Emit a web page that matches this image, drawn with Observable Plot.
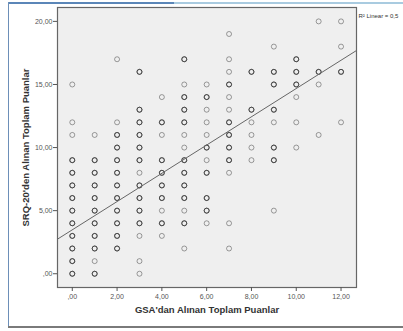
<!DOCTYPE html>
<html>
<head>
<meta charset="utf-8">
<script src="https://cdn.jsdelivr.net/npm/d3@7"></script>
<script src="https://cdn.jsdelivr.net/npm/@observablehq/plot@0.6"></script>
<style>
  html, body { margin: 0; padding: 0; background: #fff; }
  #wrap { position: relative; width: 403px; height: 331px; overflow: hidden; font-family: Arial, "Liberation Sans", sans-serif; }
  .deco { position: absolute; }
  #chart { position: absolute; left: 0; top: 0; }
</style>
</head>
<body>
<div id="wrap">
  <div id="chart"></div>
  <div class="deco" style="left:8px;top:2px;width:166px;height:2px;background:#5b86b8;"></div>
  <div class="deco" style="left:174px;top:2px;width:229px;height:2px;background:#a9cbe0;"></div>
  <div class="deco" style="left:8px;top:2px;width:1px;height:325px;background:#6d8fb8;"></div>
  <div class="deco" style="left:8px;top:326px;width:395px;height:2px;background:#7a7a7a;"></div>
</div>
<script>
// GSA score (x), SRQ-20 score (y), count (overlap: 1 = light, 3 = dark)
const scoreX = [
  11,12,
  7,
  9,12,
  2,5,7,10,
  3,7,8,9,10,11,12,
  0,5,6,7,9,10,11,
  4,5,6,7,10,
  3,5,6,7,8,9,
  0,2,3,4,5,6,7,8,9,10,12,
  0,1,2,3,4,5,6,7,8,11,
  2,3,5,6,7,8,9,10,
  0,1,2,3,4,5,6,7,8,9,
  0,1,2,3,4,5,6,7,
  0,1,2,3,4,5,
  0,1,2,3,4,5,6,
  0,1,2,3,4,5,6,9,
  0,1,2,3,4,5,6,7,
  0,1,2,3,4,
  0,1,2,5,7,
  0,1,3,
  0,1,3
];
const scoreY = [
  20,20,
  19,
  18,18,
  17,17,17,17,
  16,16,16,16,16,16,16,
  15,15,15,15,15,15,15,
  14,14,14,14,14,
  13,13,13,13,13,13,
  12,12,12,12,12,12,12,12,12,12,12,
  11,11,11,11,11,11,11,11,11,11,
  10,10,10,10,10,10,10,10,
  9,9,9,9,9,9,9,9,9,9,
  8,8,8,8,8,8,8,8,
  7,7,7,7,7,7,
  6,6,6,6,6,6,6,
  5,5,5,5,5,5,5,5,
  4,4,4,4,4,4,4,4,
  3,3,3,3,3,
  2,2,2,2,2,
  1,1,1,
  0,0,0
];
const counts = [
  1,1,
  1,
  1,1,
  1,3,1,3,
  3,1,3,3,3,3,3,
  1,1,1,3,3,3,1,
  1,3,3,1,1,
  3,3,1,1,3,3,
  1,1,3,3,3,1,3,1,1,1,1,
  1,1,3,3,1,1,1,3,1,1,
  3,3,1,3,3,1,3,1,
  3,3,3,3,3,3,1,3,1,3,
  3,3,3,1,3,3,3,1,
  3,3,3,3,3,3,
  3,3,3,3,3,3,3,
  3,3,3,3,1,1,3,1,
  3,3,3,3,3,3,1,1,
  3,3,3,1,1,
  3,3,3,1,1,
  3,1,1,
  3,3,1
];
const xTicks = [0, 2, 4, 6, 8, 10, 12];
const yTicks = [0, 5, 10, 15, 20];
const xDomain = [-0.66, 12.69];
const yDomain = [-1.09, 21.1];
const fitIntercept = 3.48;
const fitSlope = 1.12;
const xTitle = "GSA'dan Alınan Toplam Puanlar";
const yTitle = "SRQ-20'den Alınan Toplam Puanlar";
const fitNote = "R² Linear = 0,5";

// Expand overlaps into repeated points (overlapping strokes darken)
const points = [];
scoreX.forEach((x, i) => {
  for (let k = 0; k < counts[i]; k++) points.push({x, y: scoreY[i]});
});
const fitLine = xDomain.map(x => ({x, y: fitIntercept + fitSlope * x}));
const fmt = d => (d === 0 ? ",00" : d.toFixed(2).replace(".", ","));

const chart = Plot.plot({
  width: 403,
  height: 331,
  marginLeft: 57,
  marginRight: 47,
  marginTop: 7,
  marginBottom: 44,
  style: {fontFamily: "Arial, 'Liberation Sans', sans-serif", background: "transparent", overflow: "visible"},
  x: {domain: xDomain},
  y: {domain: yDomain},
  marks: [
    Plot.frame({fill: "#efefef", stroke: "none"}),
    Plot.dot(points, {x: "x", y: "y", r: 2.5, stroke: "#222", strokeOpacity: 0.42, strokeWidth: 1}),
    Plot.line(fitLine, {x: "x", y: "y", stroke: "#666", strokeWidth: 1, clip: true}),
    Plot.frame({stroke: "#666", strokeWidth: 1.2}),
    Plot.axisX({ticks: xTicks, tickFormat: fmt, tickSize: 4, tickPadding: 3, fontSize: 7, fill: "#555", stroke: "#555", label: null}),
    Plot.axisY({ticks: yTicks, tickFormat: fmt, tickSize: 4, tickPadding: 1, fontSize: 7, fill: "#555", stroke: "#555", label: null}),
    Plot.text([xTitle], {text: d => d, frameAnchor: "bottom", dy: 25, fontSize: 9.5, fontWeight: "bold", fill: "#333"}),
    Plot.text([yTitle], {text: d => d, frameAnchor: "left", textAnchor: "middle", dx: -32, rotate: -90, fontSize: 9.5, fontWeight: "bold", fill: "#333"}),
    Plot.text([fitNote], {text: d => d, frameAnchor: "top-right", textAnchor: "start", dx: 2, dy: 6, fontSize: 6, fill: "#333"})
  ]
});
document.getElementById("chart").appendChild(chart);
</script>
</body>
</html>
